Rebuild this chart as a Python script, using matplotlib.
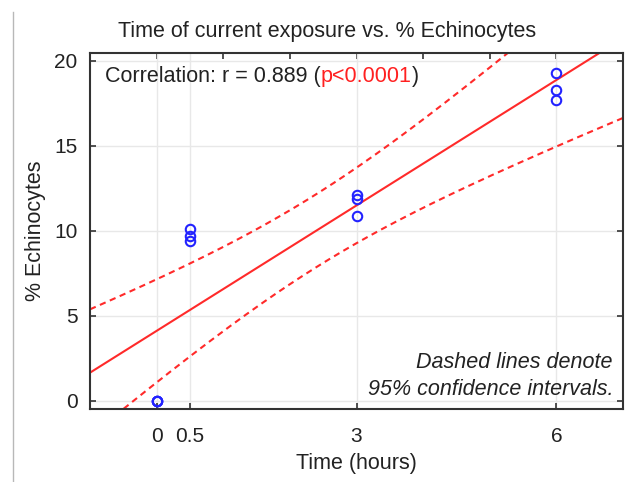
import numpy as np
import matplotlib
matplotlib.use('Agg')
import matplotlib.pyplot as plt
from matplotlib.lines import Line2D

# time of exposure (hours) and % echinocytes, 3 samples per time point
hours = [0, 0, 0, 0.5, 0.5, 0.5, 3, 3, 3, 6, 6, 6]
echinocytes = [0.0, 0.0, 0.0, 10.1, 9.7, 9.4, 12.1, 11.85, 10.85, 19.3, 18.3, 17.7]
xticks = [0, 0.5, 3, 6]
yticks = [0, 5, 10, 15, 20]

plt.rcParams['font.family'] = ['Liberation Sans', 'DejaVu Sans']
dark = '#222222'
fs = 15.5

x = np.array(hours)
y = np.array(echinocytes)
n = len(x)

# linear fit and 95% confidence band of the mean
slope, intercept = np.polyfit(x, y, 1)
resid = y - (slope * x + intercept)
s = np.sqrt(np.sum(resid ** 2) / (n - 2))
sxx = np.sum((x - x.mean()) ** 2)
t_crit = 2.228  # t(0.975, df=10)
xs = np.linspace(-1, 7, 200)
fit = slope * xs + intercept
half = t_crit * s * np.sqrt(1.0 / n + (xs - x.mean()) ** 2 / sxx)

fig = plt.figure(figsize=(6.35, 4.82), dpi=100)
ax = fig.add_axes([90 / 635, 1 - 409 / 482, 533 / 635, 356 / 482])

ax.grid(True, color='#e8e8e8', lw=1)
ax.set_axisbelow(True)

ax.plot(xs, fit, color='#ff2a2a', lw=1.5)
ax.plot(xs, fit + half, color='#ff2a2a', lw=1.5, dashes=(3, 2.2))
ax.plot(xs, fit - half, color='#ff2a2a', lw=1.5, dashes=(3, 2.2))
ax.plot(x, y, 'o', mfc='none', mec='#2222ff', mew=1.5, ms=6.8, zorder=5)

ax.set_xlim(-1, 7)
ax.set_ylim(-0.5, 20.45)
ax.set_xticks(xticks)
ax.set_xticklabels(['0', '0.5', '3', '6'])
ax.set_yticks(yticks)

for sp in ax.spines.values():
    sp.set_color('#333333')
    sp.set_linewidth(1.5)

ax.tick_params(axis='both', direction='in', length=4, width=1.2, color='#333333',
               labelsize=15, labelcolor=dark, right=True)
ax.tick_params(axis='x', pad=13)
ax.tick_params(axis='y', pad=9)

top = ax.secondary_xaxis('top')
top.set_xticks(range(0, 7))
top.tick_params(direction='in', length=4, width=1.2, color='#333333', labeltop=False)
top.spines['top'].set_visible(False)

ax.set_xlabel('Time (hours)', fontsize=fs, color=dark, labelpad=5)
ax.set_ylabel('% Echinocytes', fontsize=fs, color=dark, labelpad=6)

fig.text(327 / 635, 1 - 37 / 482, 'Time of current exposure vs. % Echinocytes',
         ha='center', va='baseline', fontsize=fs, color=dark)

# correlation note, p value in red
t1 = ax.text((105 - 90) / 533, (409 - 87) / 356, 'Correlation: r = 0.889 (', fontsize=fs,
             color=dark, transform=ax.transAxes, va='bottom')
t2 = ax.annotate('p<0.0001', xy=(1, 0), xycoords=t1, va='bottom', fontsize=fs, color='#ff2020')
ax.annotate(')', xy=(1, 0), xycoords=t2, va='bottom', fontsize=fs, color=dark)

ax.text((613 - 90) / 533, (409 - 395) / 356, 'Dashed lines denote\n95% confidence intervals.',
        transform=ax.transAxes, ha='right', va='baseline', fontsize=fs, style='italic',
        color=dark, linespacing=1.35, multialignment='right')

# thin page border on the left
fig.add_artist(Line2D([12.7 / 635, 12.7 / 635], [0, 1 - 12 / 482], color='#b8b8b8', lw=1))

fig.savefig('out.png', dpi=100)
